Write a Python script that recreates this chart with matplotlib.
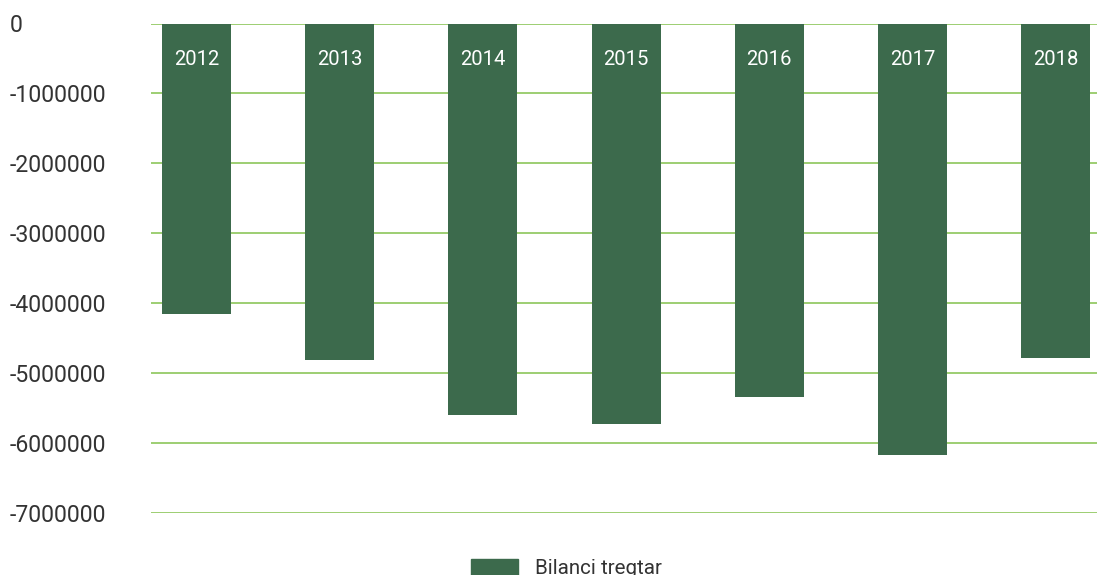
import matplotlib
matplotlib.use("Agg")
import matplotlib.pyplot as plt
from matplotlib.patches import Patch

years = ["2012", "2013", "2014", "2015", "2016", "2017", "2018"]
values = [-4160000, -4810000, -5610000, -5730000, -5350000, -6180000, -4790000]
yticks = [0, -1000000, -2000000, -3000000, -4000000, -5000000, -6000000, -7000000]
series_name = "Bilanci tregtar"

BAR = "#3c6a4c"
GRID = "#8cc65a"
TXT = "#333333"
FONT = "Roboto"

W, H = 1097, 575
fig = plt.figure(figsize=(W / 100, H / 100), dpi=100)
ax = fig.add_axes([151 / W, 1 - 512.5 / H, 1 - 151 / W, (512.5 - 23.5) / H])

x = list(range(len(years)))
ax.bar(x, values, width=0.482, color=BAR, zorder=3)
for xi, lab in zip(x, years):
    ax.text(xi, -520000, lab, ha="center", va="center", color="white",
            fontsize=14.6, family=FONT, zorder=4)

ax.set_xlim(-0.318, 6.288)
ax.set_ylim(-7000000, 0)
ax.set_yticks(yticks)
ax.set_yticklabels([str(v) for v in yticks], family=FONT, fontsize=16.6, color=TXT, ha="left")
ax.tick_params(axis="y", length=0, pad=102)
ax.tick_params(axis="x", length=0, labelbottom=False)
ax.grid(axis="y", color=GRID, linewidth=1.2, zorder=1)
for s in ax.spines.values():
    s.set_visible(False)

fig.legend(handles=[Patch(color=BAR, label=series_name)], loc="upper center",
           bbox_to_anchor=(0.5164, 1 - 540 / H), frameon=False,
           prop={"family": FONT, "size": 14.8}, labelcolor=TXT,
           handlelength=2.28, handleheight=0.85, handletextpad=0.83)

fig.savefig("out.png", dpi=100)
